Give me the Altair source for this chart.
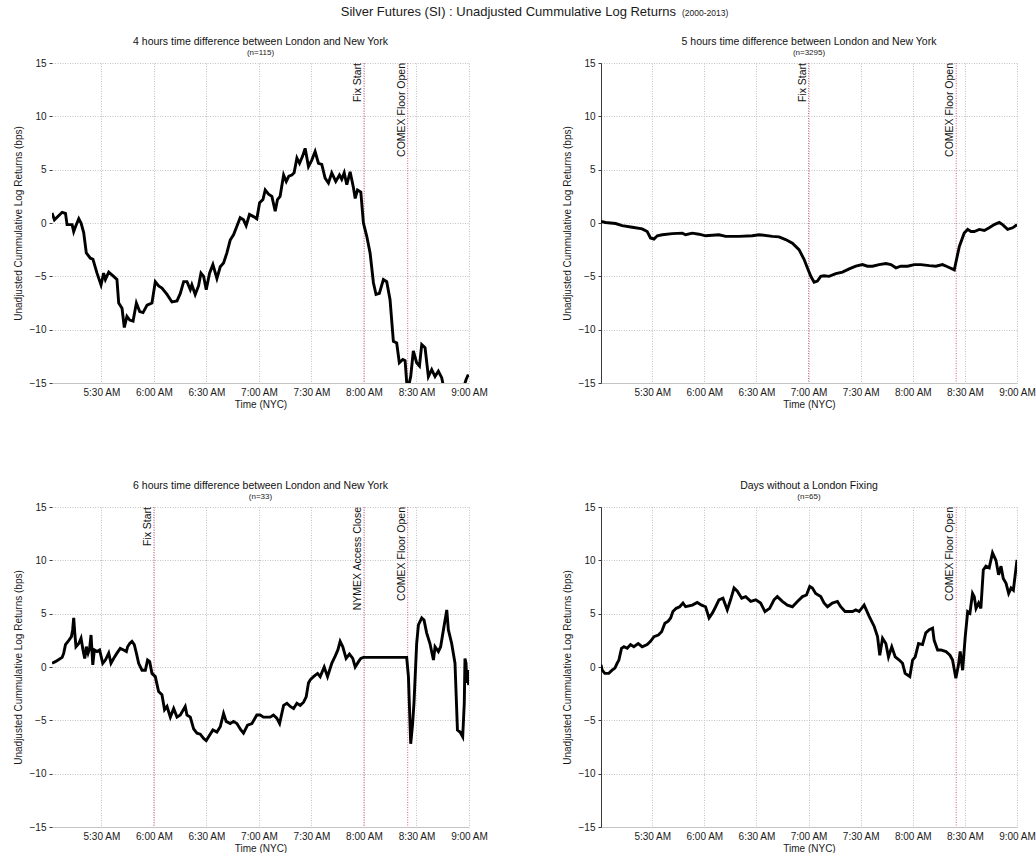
import altair as alt
import pandas as pd

FONT = "Liberation Sans"

SUPER_TITLE = "Silver Futures (SI) : Unadjusted Cummulative Log Returns"
SUPER_YEARS = "(2000-2013)"
Y_TITLE = "Unadjusted Cummulative Log Returns (bps)"
X_TITLE = "Time (NYC)"

# x is measured in minutes after 5:00 AM (New York time)
X_TICKS = [30, 60, 90, 120, 150, 180, 210, 240]
Y_TICKS = [-15, -10, -5, 0, 5, 10, 15]

PANEL_TITLES = [
    "4 hours time difference between London and New York",
    "5 hours time difference between London and New York",
    "6 hours time difference between London and New York",
    "Days without a London Fixing",
]
PANEL_COUNTS = ["(n=115)", "(n=3295)", "(n=33)", "(n=65)"]
PANEL_X_START = [1.8, 0.5, 1.8, 0.5]

PANEL_EVENTS = [
    [("Fix Start", 180), ("COMEX Floor Open", 205)],
    [("Fix Start", 120), ("COMEX Floor Open", 205)],
    [("Fix Start", 60), ("NYMEX Access Close", 180), ("COMEX Floor Open", 205)],
    [("COMEX Floor Open", 205)],
]

# (minute after 5:00 AM, cumulative log return in bps)
returns_4h = [
    (1.8, 0.94), (3.2, 0.3), (7.6, 1.0), (9.5, 0.9), (10.4, -0.15), (13.3, -0.15), (14.2, -0.8),
    (15.2, -0.35), (17.1, 0.4), (18.4, 0.0), (19.9, -0.9), (21.4, -2.8), (23.7, -3.3), (25.2, -3.4),
    (27.5, -4.7), (29.8, -5.8), (31.3, -4.7), (32.3, -5.3), (34.2, -4.6), (37.0, -5.0), (38.9, -5.3),
    (39.9, -7.5), (41.8, -8.0), (43.1, -9.8), (44.6, -8.75), (46.2, -9.1), (48.1, -9.2), (50.0, -7.5),
    (51.9, -8.3), (53.8, -8.4), (56.1, -7.7), (58.9, -7.5), (60.8, -5.5), (62.7, -5.9), (64.6, -6.1),
    (67.5, -6.7), (70.3, -7.4), (73.2, -7.3), (75.1, -6.6), (77.0, -5.5), (78.9, -5.5), (80.8, -6.25),
    (81.7, -5.8), (83.6, -6.7), (85.5, -5.9), (86.9, -4.7), (88.4, -5.0), (89.9, -6.25), (91.8, -4.7),
    (93.7, -3.9), (96.0, -5.2), (97.9, -4.1), (99.8, -3.75), (101.7, -2.8), (103.6, -1.6), (105.5, -1.1),
    (107.4, -0.3), (109.3, 0.5), (111.2, 0.3), (112.7, -0.25), (114.6, 0.8), (116.9, 0.6), (118.8, 0.4),
    (120.4, 1.9), (122.3, 2.2), (123.6, 3.1), (125.5, 2.7), (127.4, 2.5), (129.3, 1.1), (130.6, 2.2),
    (132.1, 2.5), (134.1, 4.5), (135.6, 3.9), (137.1, 4.4), (138.8, 4.5), (140.1, 4.7), (141.7, 6.1),
    (143.2, 5.6), (144.9, 6.25), (146.4, 7.0), (148.3, 5.3), (150.2, 5.9), (152.1, 6.7), (154.0, 5.6),
    (155.9, 5.5), (157.8, 4.2), (159.7, 3.75), (161.6, 4.7), (163.9, 3.9), (166.0, 4.5), (167.3, 4.1),
    (168.7, 4.7), (170.2, 3.6), (172.1, 4.8), (174.0, 3.3), (175.0, 2.3), (176.3, 3.1), (178.2, 2.9),
    (179.7, 0.0), (181.6, -1.25), (183.5, -2.8), (185.4, -5.6), (186.9, -6.7), (188.8, -6.6),
    (191.1, -5.3), (193.0, -5.5), (194.9, -7.2), (196.8, -11.1), (198.7, -11.25), (200.2, -13.1),
    (202.2, -12.8), (203.5, -12.9), (204.8, -15.8), (206.7, -14.4), (208.2, -12.0), (210.1, -13.1),
    (211.7, -13.4), (213.0, -11.4), (214.9, -11.7), (216.8, -14.4), (218.7, -13.75), (220.6, -14.4),
    (222.5, -13.9), (224.4, -14.5), (225.4, -15.3), (228.5, -16.4), (232.0, -17.0), (235.5, -16.2),
    (238.3, -14.7), (239.6, -14.2),
]

returns_5h = [
    (0.5, 0.15), (3.1, 0.05), (8.9, -0.05), (12.7, -0.25), (18.5, -0.4), (24.2, -0.55), (27.1, -0.8),
    (29.0, -1.4), (31.0, -1.5), (32.9, -1.2), (35.8, -1.1), (41.5, -1.0), (47.3, -0.95), (49.2, -1.1),
    (53.1, -0.95), (56.9, -1.05), (60.7, -1.2), (68.4, -1.1), (72.3, -1.25), (80.0, -1.25), (87.6, -1.2),
    (91.5, -1.1), (99.2, -1.25), (103.0, -1.3), (106.8, -1.55), (110.7, -1.9), (114.5, -2.5),
    (117.4, -3.4), (119.3, -4.2), (121.3, -5.0), (123.2, -5.55), (125.1, -5.45), (127.0, -5.0),
    (128.9, -4.95), (131.8, -5.0), (135.7, -4.75), (139.5, -4.6), (143.4, -4.3), (147.2, -4.05),
    (151.0, -3.9), (153.9, -4.05), (156.8, -4.05), (160.6, -3.9), (164.5, -3.8), (167.4, -3.9),
    (170.3, -4.2), (173.1, -4.05), (177.0, -4.05), (180.8, -3.9), (184.7, -3.9), (189.5, -4.0),
    (193.3, -4.05), (197.1, -3.9), (200.0, -4.1), (203.9, -4.4), (205.2, -3.4), (206.8, -2.2),
    (209.6, -0.95), (211.6, -0.6), (213.5, -0.8), (215.4, -0.8), (218.3, -0.6), (221.2, -0.7),
    (224.0, -0.45), (226.9, -0.15), (229.8, 0.05), (231.7, -0.15), (234.6, -0.6), (237.5, -0.45),
    (240.0, -0.15),
]

returns_6h = [
    (1.8, 0.35), (3.7, 0.5), (5.7, 0.7), (7.6, 0.9), (8.5, 1.3), (9.5, 2.1), (11.4, 2.5), (12.9, 2.85),
    (13.6, 3.5), (14.2, 4.6), (14.8, 3.2), (15.5, 1.9), (17.1, 2.2), (18.4, 2.7), (19.5, 1.6), (20.5, 0.8),
    (21.4, 1.9), (22.4, 1.3), (23.3, 1.75), (24.1, 3.0), (25.1, 0.2), (26.0, 1.6), (27.5, 1.45),
    (29.0, 1.6), (30.8, 0.35), (32.3, 0.65), (34.2, 1.3), (35.5, 0.35), (37.0, 0.8), (38.9, 1.3),
    (40.8, 1.75), (42.7, 1.6), (44.3, 1.45), (45.0, 1.9), (46.2, 2.2), (47.5, 2.4), (48.8, 2.1),
    (50.0, 1.3), (51.3, 0.35), (53.2, -0.3), (55.1, -0.3), (56.4, 0.65), (57.6, 0.5), (58.9, -0.6),
    (60.8, -0.9), (62.7, -2.3), (64.6, -2.6), (66.1, -4.0), (67.5, -3.7), (69.4, -4.7), (71.3, -3.9),
    (73.2, -4.7), (75.1, -4.5), (77.9, -3.7), (78.9, -4.5), (80.8, -4.7), (82.7, -5.8), (84.6, -6.2),
    (86.5, -6.3), (88.4, -6.7), (89.9, -6.9), (91.8, -6.4), (93.7, -5.9), (96.0, -6.1), (97.9, -5.6),
    (99.8, -4.35), (101.3, -5.1), (103.6, -5.3), (105.5, -5.1), (107.4, -5.3), (109.7, -5.9),
    (111.2, -6.2), (113.5, -5.45), (116.0, -5.3), (118.8, -4.5), (120.7, -4.5), (122.6, -4.7),
    (124.5, -4.7), (126.4, -4.7), (128.3, -4.5), (130.2, -4.8), (131.8, -5.3), (134.1, -3.6),
    (136.0, -3.4), (137.9, -3.7), (139.8, -3.9), (141.7, -3.4), (143.6, -3.6), (145.5, -3.3),
    (147.0, -2.8), (148.3, -1.5), (149.3, -1.2), (151.2, -0.9), (153.5, -0.6), (155.0, -0.9),
    (157.3, 0.0), (159.2, -0.9), (161.6, 0.35), (163.5, 1.0), (165.1, 1.6), (166.4, 2.4), (167.9, 1.9),
    (169.8, 0.8), (171.7, 1.2), (173.6, 0.8), (175.0, 0.0), (176.9, 0.5), (178.2, 0.8), (179.7, 0.9),
    (204.4, 0.9), (205.4, -0.9), (206.7, -7.2), (207.8, -5.3), (208.6, -3.3), (210.1, 2.2),
    (211.1, 3.95), (213.0, 4.6), (214.3, 4.4), (215.8, 3.2), (217.7, 2.2), (219.7, 0.65), (220.6, 1.9),
    (222.5, 1.45), (223.8, 1.9), (225.4, 3.5), (227.3, 5.35), (228.2, 3.5), (230.1, 2.2), (232.0, 0.35),
    (233.4, -5.9), (234.9, -6.1), (236.4, -6.55), (237.3, -3.4), (237.7, 0.8), (238.3, 0.35),
    (238.7, -1.5), (239.2, -0.3), (239.8, -1.7),
]

returns_nofix = [
    (0.5, 0.2), (1.2, -0.3), (2.7, -0.6), (5.0, -0.6), (6.9, -0.3), (8.5, -0.1), (9.8, 0.35),
    (10.8, 0.65), (12.3, 1.75), (13.7, 1.9), (15.6, 1.75), (17.5, 2.1), (19.4, 1.9), (21.9, 2.2),
    (24.2, 1.9), (27.1, 2.1), (29.0, 2.4), (31.0, 2.85), (33.5, 3.0), (35.4, 3.3), (37.3, 4.1),
    (39.2, 4.3), (40.6, 4.6), (41.9, 5.2), (43.8, 5.5), (45.8, 5.65), (47.7, 6.0), (49.2, 5.65),
    (53.1, 5.8), (55.9, 6.05), (58.4, 5.8), (60.7, 5.65), (62.7, 4.6), (64.6, 5.05), (66.5, 5.65),
    (68.4, 6.3), (70.7, 6.45), (73.2, 5.35), (75.1, 6.3), (77.1, 7.4), (79.0, 7.1), (81.5, 6.45),
    (83.8, 6.6), (86.7, 6.15), (89.6, 6.3), (92.4, 6.0), (94.9, 5.2), (97.6, 5.5), (100.1, 6.3),
    (102.0, 6.6), (104.9, 6.15), (107.8, 5.8), (110.7, 5.65), (113.6, 6.15), (116.5, 6.6),
    (118.8, 6.75), (120.7, 7.55), (122.2, 7.4), (124.1, 6.9), (127.0, 6.6), (128.9, 6.0), (130.9, 5.65),
    (133.7, 6.0), (136.6, 6.15), (138.5, 5.65), (141.0, 5.2), (143.4, 5.2), (145.3, 5.2), (147.2, 5.35),
    (149.1, 5.2), (152.0, 5.8), (154.9, 4.75), (157.8, 3.8), (159.7, 2.85), (161.0, 1.1), (162.6, 2.7),
    (164.5, 2.2), (166.0, 0.95), (167.9, 1.9), (169.9, 0.95), (172.2, 0.65), (174.1, 0.35),
    (175.6, -0.6), (177.0, -0.75), (178.3, -0.9), (179.9, 0.65), (181.4, 0.95), (183.3, 2.2),
    (185.6, 2.1), (187.5, 3.2), (189.5, 3.5), (191.4, 3.65), (192.3, 2.5), (194.3, 1.6), (196.2, 1.6),
    (199.1, 1.45), (201.4, 1.1), (202.9, 0.65), (204.8, -1.05), (206.3, 0.2), (207.3, 1.45),
    (208.7, -0.3), (210.2, 2.85), (211.6, 5.2), (212.9, 5.05), (214.4, 6.9), (215.4, 6.6), (216.4, 5.5),
    (217.9, 6.0), (219.2, 5.5), (220.6, 9.1), (222.1, 9.45), (224.0, 9.3), (225.9, 10.7), (227.9, 10.0),
    (229.4, 8.65), (230.8, 9.45), (232.1, 8.3), (233.7, 7.85), (235.2, 6.9), (236.6, 7.4), (237.9, 7.2),
    (240.0, 10.05),
]

PANEL_SERIES = [returns_4h, returns_5h, returns_6h, returns_nofix]
PANEL_WIDTHS = [417, 416, 417, 416]
PANEL_HEIGHT = 320

TIME_LABEL = ("floor((datum.value + 300) / 60) + ':' + "
              "(datum.value % 60 == 0 ? '00' : '30') + ' AM'")


def make_panel(i):
    df = pd.DataFrame(PANEL_SERIES[i], columns=["minute", "bps"])
    ev = pd.DataFrame(PANEL_EVENTS[i], columns=["label", "minute"])
    ev["bps"] = 15
    head = pd.DataFrame({"title": [PANEL_TITLES[i]], "count": [PANEL_COUNTS[i]],
                         "main": [SUPER_TITLE], "years": [SUPER_YEARS]})

    x_scale = alt.Scale(domain=[PANEL_X_START[i], 240], nice=False, zero=False)
    y_scale = alt.Scale(domain=[-15, 15], nice=False, zero=False)
    left_line = i in (1, 3)

    x_axis = alt.Axis(
        values=X_TICKS, labelExpr=TIME_LABEL, title=X_TITLE, grid=True,
        gridDash=[1, 1.5], gridColor="#c2c2c2", gridWidth=1,
        domainColor="#c4c4c4", domainWidth=1, ticks=False,
        labelFlush=False, labelPadding=4, labelFontSize=10, labelColor="#1a1a1a",
        titleFontSize=10, titleFontWeight="normal", titleColor="#1a1a1a", titlePadding=2,
    )
    y_axis = alt.Axis(
        values=Y_TICKS, title=Y_TITLE, grid=True,
        gridDash=[1, 1.5], gridColor="#c2c2c2", gridWidth=1,
        domain=left_line, domainColor="#3a3a3a", domainWidth=1,
        ticks=True, tickSize=3, tickColor="#3a3a3a",
        labelFlush=False, labelPadding=3, labelFontSize=10, labelColor="#1a1a1a",
        titleFontSize=10, titleFontWeight="normal", titleColor="#1a1a1a", titlePadding=6,
    )
    x_enc = alt.X("minute:Q", scale=x_scale, axis=x_axis)
    y_enc = alt.Y("bps:Q", scale=y_scale, axis=y_axis)

    markers = alt.Chart(ev).mark_rule(
        color="#dc5a78", strokeDash=[1, 1.5], strokeWidth=1
    ).encode(x=x_enc)
    curve = alt.Chart(df).mark_line(color="black", strokeWidth=2.9, clip=True).encode(
        x=x_enc, y=y_enc
    )
    marker_text = alt.Chart(ev).mark_text(
        angle=270, align="right", baseline="bottom", fontSize=10.5, color="#111111", dy=-1
    ).encode(x=x_enc, y=y_enc, text="label:N")

    # panel heading: description and sample size, centred above the plot
    heading = alt.Chart(head).mark_text(
        align="center", baseline="middle", fontSize=10.5, color="#111111"
    ).encode(x=alt.value(PANEL_WIDTHS[i] / 2), y=alt.value(-21), text="title:N")
    count = alt.Chart(head).mark_text(
        align="center", baseline="middle", fontSize=8, color="#222222"
    ).encode(x=alt.value(PANEL_WIDTHS[i] / 2), y=alt.value(-10), text="count:N")

    layers = [markers, curve, marker_text, heading, count]
    if i == 0:
        layers.append(
            alt.Chart(head).mark_text(align="right", baseline="alphabetic", fontSize=13,
                                      color="#1a1a1a")
            .encode(x=alt.value(624), y=alt.value(-47), text="main:N")
        )
        layers.append(
            alt.Chart(head).mark_text(align="left", baseline="alphabetic", fontSize=8.5,
                                      color="#1a1a1a")
            .encode(x=alt.value(630), y=alt.value(-47), text="years:N")
        )

    return alt.layer(*layers).properties(width=PANEL_WIDTHS[i], height=PANEL_HEIGHT)


panels = [make_panel(i) for i in range(4)]

chart = (
    alt.ConcatChart(concat=panels, columns=2, spacing={"row": 124, "column": 132},
                    bounds="flush")
    .properties(padding={"left": 13, "top": 6, "right": 0, "bottom": 0})
    .configure_view(strokeWidth=0)
    .configure_axis(labelFont=FONT, titleFont=FONT)
    .configure_text(font=FONT)
)

chart.save("out.html", embed_options={"renderer": "svg", "actions": False})
